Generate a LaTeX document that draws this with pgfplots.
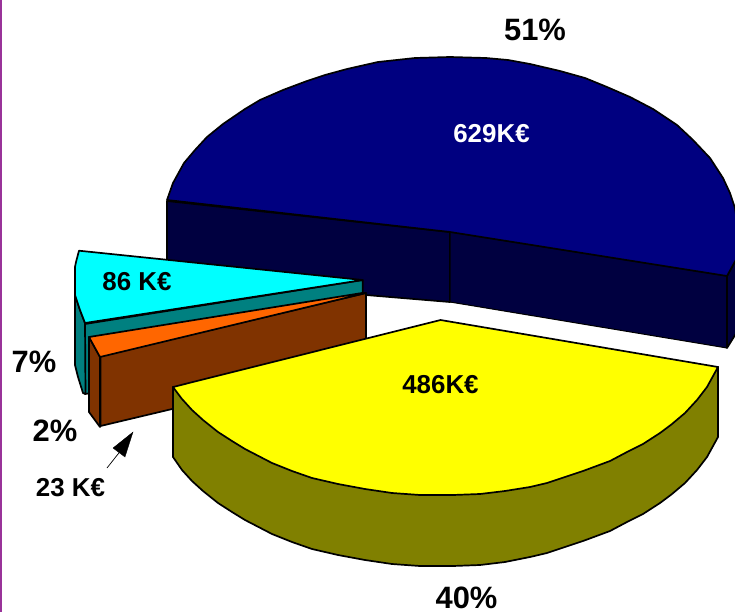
\documentclass[border=0pt]{standalone}
\usepackage{pgfplots}
\pgfplotsset{compat=1.18}
\usepackage{fontspec}
\setmainfont{Liberation Sans}
\definecolor{navytop}{HTML}{000080}
\definecolor{navyside}{HTML}{000040}
\definecolor{cyantop}{HTML}{00FFFF}
\definecolor{tealside}{HTML}{008080}
\definecolor{orangetop}{HTML}{FF6600}
\definecolor{brownside}{HTML}{803300}
\definecolor{yellowtop}{HTML}{FFFF00}
\definecolor{oliveside}{HTML}{808000}
\definecolor{edgepurple}{HTML}{993399}
\pgfplotsset{slice/.style={draw=black,line width=1.7bp,line join=round,mark=none}}
\newcommand{\lab}[4]{\node[font=\fontsize{#3}{#3}\selectfont\bfseries,text=#4,inner sep=0pt] at (axis cs:#1) {#2};}
\begin{document}
\begin{tikzpicture}
\path[use as bounding box] (0,0) rectangle (735bp,612bp);
\begin{axis}[
  scale only axis,width=735bp,height=612bp,
  xmin=0,xmax=735,ymin=0,ymax=612,y dir=reverse,
  axis lines=none,clip=true]
% frame line at left
\addplot[draw=edgepurple,line width=1.6bp,mark=none] coordinates {(0.8,0)(0.8,612)};
% navy slice (51%)
\addplot[slice,fill=navyside] coordinates {(167,201)(450,232)(450,302)(366,295)(167,272)} -- cycle;
\addplot[slice,line width=1bp,fill=navyside] coordinates {(450,232)(727,276)(727,348)(450,302)} -- cycle;
\addplot[slice,fill=navyside] coordinates {(727,276)(737,258)(737,332)(727,348)} -- cycle;
\addplot[slice,fill=navytop] coordinates {(167,200)(173,183)(184,163)(195,150)(207,137)(223,124)(245,109)(260,100)(283,90)(307,81)(325,75)(347,69)(378,62)(415,58)(450,57)(486,58)(508,60)(530,64)(560,71)(585,78)(607,87)(630,97)(653,109)(677,125)(693,140)(710,158)(723,178)(730,193)(735,208)(738,230)(738,256)(727,276)(450,232)} -- cycle;
% cyan slice (7%)
\addplot[slice,fill=tealside] coordinates {(85,324)(362.7,280)(362.7,350)(85,394)} -- cycle;
\addplot[slice,fill=tealside] coordinates {(75,295)(80,310)(85,323)(85.5,394)(83,393)(78,377)(75,365)} -- cycle;
\addplot[slice,fill=cyantop] coordinates {(79,250.7)(76,262)(75,267)(75,295)(80,310)(85,323)(362.7,280)} -- cycle;
% orange slice (2%)
\addplot[slice,fill=brownside] coordinates {(100.5,356)(366,293)(366,363)(100.5,426)} -- cycle;
\addplot[slice,fill=brownside] coordinates {(89,337)(100,357)(100,427)(89,412)} -- cycle;
\addplot[slice,fill=orangetop] coordinates {(89,337)(362,293)(366,293)(100,357)} -- cycle;
% yellow slice (40%)
\addplot[slice,fill=oliveside] coordinates {(173,387)(173,457)(182,470)(192,481)(203,491)(218,503)(232,512)(245,520)(272,534)(292,542)(312,549)(338,555)(365,560)(392,564)(420,566)(453,566)(480,565)(505,562)(530,557)(547,553)(583,541)(610,531)(627,522)(643,514)(660,503)(672,494)(685,483)(697,470)(707,457)(718,437)(718,367)} -- cycle;
\addplot[slice,fill=yellowtop] coordinates {(440.5,320)(718,367)(707,387)(697,400)(685,413)(672,424)(660,433)(643,444)(627,452)(610,461)(583,471)(547,483)(530,487)(505,491)(480,494)(453,495)(420,495)(392,493)(365,489)(338,484)(312,478)(292,471)(272,463)(245,449)(232,441)(218,432)(203,420)(192,410)(182,399)(173,387)} -- cycle;
% arrow to the 2% slice
\addplot[draw=black,line width=0.7bp,mark=none] coordinates {(107,468)(122,449)};
\addplot[draw=black,fill=black,line width=0.3bp,mark=none] coordinates {(133,432)(113,448)(125,457)} -- cycle;
% labels
\lab{535,30}{51\%}{31}{black}
\lab{466.5,598}{40\%}{31}{black}
\lab{34,362}{7\%}{31}{black}
\lab{55,431}{2\%}{31}{black}
\lab{491.5,134}{629K€}{26}{white}
\lab{440.5,385}{486K€}{26}{black}
\lab{137,282}{86 K€}{26}{black}
\lab{70.5,488}{23 K€}{26}{black}
\end{axis}
\end{tikzpicture}
\end{document}
